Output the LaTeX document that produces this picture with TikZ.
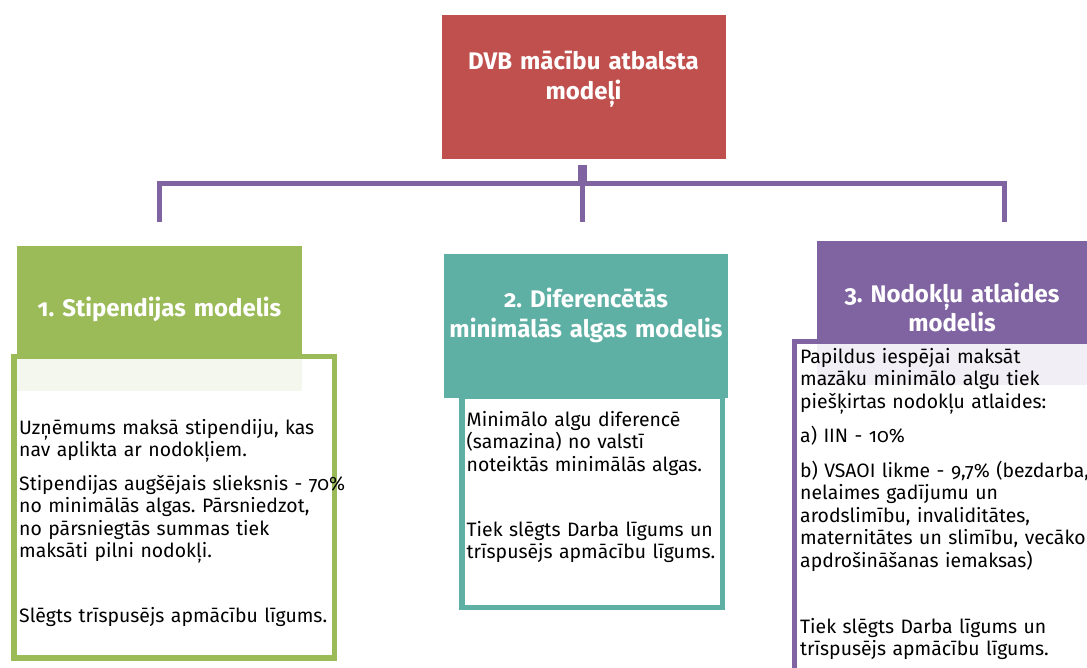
\documentclass[tikz,border=0pt]{standalone}
\usepackage{fontspec}
\setmainfont[Numbers=OldStyle]{Fira Sans}
\frenchspacing
\definecolor{redA}{HTML}{C0504D}
\definecolor{greenA}{HTML}{9BBB59}
\definecolor{tealA}{HTML}{5EAFA4}
\definecolor{purpA}{HTML}{8064A2}
\definecolor{greenL}{HTML}{F4F7EE}
\definecolor{purpL}{HTML}{F1EEF5}
\tikzset{
  hdrbox/.style={inner sep=0pt, outer sep=0pt, anchor=north west, draw=none},
  outbox/.style={inner sep=0pt, outer sep=0pt, anchor=north west, fill=white, line width=5.3pt},
  hdtext/.style={anchor=base, align=center, inner sep=0pt, text=white, font=\frenchspacing\bfseries\fontsize{24}{30}\selectfont},
  bodytext/.style={anchor=base west, align=left, inner sep=0pt, text width=330pt, font=\frenchspacing\fontsize{19.4}{22.5}\selectfont},
  conn/.style={draw=purpA, line width=5.3pt}
}
\begin{document}
\begin{tikzpicture}[x=1pt,y=-1pt]
\clip (0,0) rectangle (1087,668);
\useasboundingbox (0,0) rectangle (1087,668);
% top box
\node[hdrbox, fill=redA, minimum width=284pt, minimum height=144pt] (top) at (441.5,15) {};
\node[hdtext, text width=280pt] (toptext) at (583.5,70) {DVB mācību atbalsta\\modeļi};
% connectors
\coordinate (bar) at (582.2,183.5);
\coordinate (d1) at (159.7,221.7);
\coordinate (d2) at (582.2,221.7);
\coordinate (d3) at (1004.5,221.7);
\coordinate (stemtop) at (582.2,165);
\draw[conn] (d1) |- (bar) -| (d3);
\draw[conn] (stemtop) -- (d2);
\draw[draw=purpA, line width=9pt] (stemtop) -- (bar);
% box 1
\node[outbox, draw=greenA, minimum width=320.5pt, minimum height=301.5pt] (b1) at (14,356.5) {};
\node[hdrbox, fill=greenA, minimum width=284.4pt, minimum height=112.5pt] (h1) at (17.3,246.5) {};
\node[hdrbox, fill=greenL, minimum width=284.4pt, minimum height=32pt] (s1) at (17.3,359) {};
\node[hdtext, text width=284pt] (h1text) at (159.5,316.7) {1. Stipendijas modelis};
% box 2
\node[outbox, draw=tealA, minimum width=260.7pt, minimum height=211.5pt] (b2) at (462,396) {};
\node[hdrbox, fill=tealA, minimum width=284.3pt, minimum height=144pt] (h2) at (444,254) {};
\node[hdtext, text width=284pt] (h2text) at (586,308) {2. Diferencētās\\minimālās algas modelis};
% box 3
\node[outbox, draw=purpA, minimum width=320pt, minimum height=340pt] (b3) at (794.2,341.5) {};
\node[hdrbox, fill=purpA, minimum width=280pt, minimum height=98pt] (h3) at (816.7,241) {};
\node[hdrbox, fill=purpL, minimum width=280pt, minimum height=41pt] (s3) at (816.7,344) {};
\node[hdtext, text width=270pt, font=\frenchspacing\bfseries\fontsize{24}{25}\selectfont] (h3text) at (952,303) {3. Nodokļu atlaides\\modelis};
% body texts
\node[bodytext] (t1) at (19,434.3) {Uzņēmums maksā stipendiju, kas\\
nav aplikta ar nodokļiem.\\[10.8pt]
Stipendijas augšējais slieksnis - 70\%\\
no minimālās algas. Pārsniedzot,\\
no pārsniegtās summas tiek\\
maksāti pilni nodokļi.\\[42.5pt]
Slēgts trīspusējs apmācību līgums.};
\node[bodytext] (t2) at (466.5,426) {Minimālo algu diferencē\\
(samazina) no valstī\\
noteiktās minimālās algas.\\[42.5pt]
Tiek slēgts Darba līgums un\\
trīspusējs apmācību līgums.};
\node[bodytext] (t3) at (800,363.3) {Papildus iespējai maksāt\\
mazāku minimālo algu tiek\\
piešķirtas nodokļu atlaides:\\[11.7pt]
a) IIN - 10\%\\[12.4pt]
b) VSAOI likme - 9,7\% (bezdarba,\\
nelaimes gadījumu un\\
arodslimību, invaliditātes,\\
maternitātes un slimību, vecāko\\
apdrošināšanas iemaksas)\\[43.4pt]
Tiek slēgts Darba līgums un\\
trīspusējs apmācību līgums.};
\end{tikzpicture}
\end{document}
